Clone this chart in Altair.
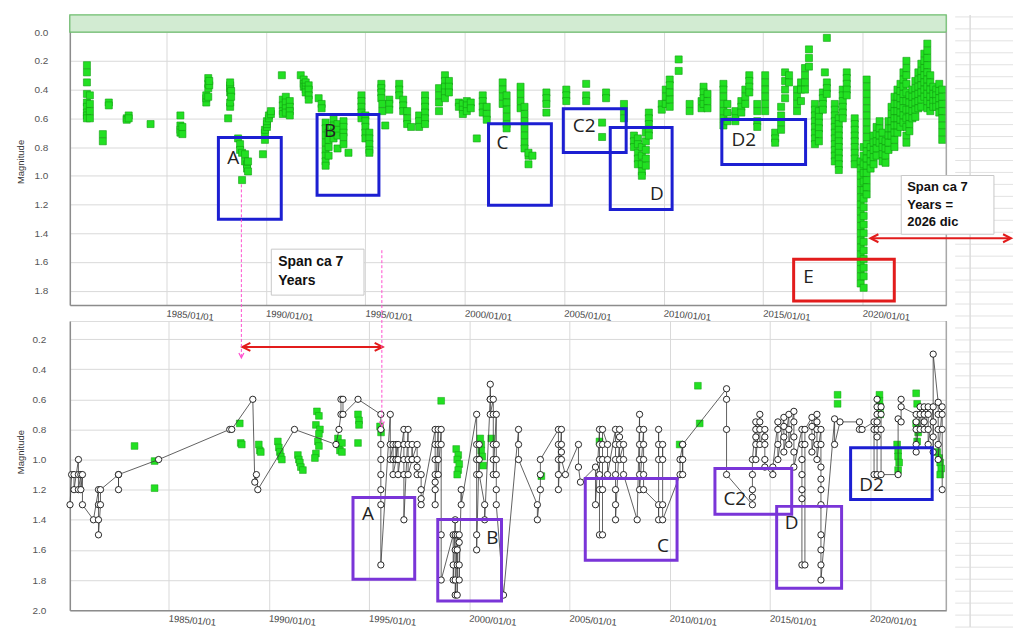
import altair as alt
import pandas as pd

# ---------------- top panel: visual estimates (green squares) ----------------
top_1980s = [
    (1981.0, [0.23, 0.28, 0.35, 0.43, 0.49, 0.52, 0.56, 0.58, 0.60]),
    (1981.15, [0.44, 0.50, 0.55, 0.60]),
    (1981.8, [0.71, 0.76]),
    (1982.1, [0.49, 0.51]),
    (1983.0, [0.60, 0.61]),
    (1983.1, [0.58, 0.60]),
    (1984.2, [0.64]),
    (1985.7, [0.58, 0.65, 0.68, 0.70]),
    (1985.8, [0.66, 0.71]),
    (1987.0, [0.49, 0.46, 0.44]),
    (1987.1, [0.45, 0.39, 0.36, 0.32]),
    (1987.15, [0.37, 0.34]),
    (1988.1, [0.60]),
    (1988.2, [0.52, 0.49, 0.42, 0.39, 0.37, 0.35]),
    (1988.25, [0.41, 0.45]),
    (1988.6, [0.74]),
    (1988.7, [0.78, 0.82]),
    (1988.8, [0.84, 1.03]),
    (1988.95, [0.85, 0.90]),
    (1989.05, [0.92, 0.95]),
    (1989.1, [0.97, 0.90]),
    (1989.85, [0.85]),
    (1989.95, [0.75, 0.70, 0.68]),
]
top_1990s = [
    (1990.05, [0.66, 0.64, 0.62]),
    (1990.15, [0.60, 0.58]),
    (1990.25, [0.57, 0.55]),
    (1990.8, [0.30]),
    (1990.85, [0.47, 0.51, 0.55, 0.57]),
    (1991.0, [0.45, 0.49, 0.53, 0.56]),
    (1991.2, [0.48, 0.52, 0.55, 0.58]),
    (1991.75, [0.30]),
    (1991.9, [0.33, 0.36, 0.38]),
    (1992.0, [0.35, 0.38, 0.40, 0.42]),
    (1992.15, [0.37, 0.40, 0.44, 0.47]),
    (1992.65, [0.46]),
    (1992.8, [0.50, 0.53]),
    (1993.0, [0.63, 0.67, 0.72, 0.77, 0.82, 0.86, 0.90, 0.93]),
    (1993.15, [0.70, 0.75, 0.80, 0.86]),
    (1993.4, [0.61, 0.65, 0.70, 0.74]),
    (1993.6, [0.64, 0.68, 0.72, 0.81]),
    (1993.9, [0.62, 0.66, 0.70, 0.73, 0.78]),
    (1994.15, [0.84]),
    (1994.8, [0.44, 0.48, 0.52, 0.56, 0.60]),
    (1995.0, [0.58, 0.62, 0.66, 0.70, 0.74]),
    (1995.2, [0.70, 0.74, 0.78, 0.82, 0.84]),
    (1995.8, [0.36, 0.39, 0.42, 0.46]),
    (1995.85, [0.50, 0.55]),
    (1996.0, [0.65]),
    (1996.2, [0.47, 0.50, 0.54]),
    (1996.7, [0.36, 0.40, 0.44]),
    (1996.9, [0.47, 0.51, 0.55]),
    (1997.1, [0.55, 0.60, 0.64]),
    (1997.3, [0.66]),
    (1997.7, [0.58, 0.62, 0.66]),
    (1998.0, [0.44, 0.48, 0.52, 0.56, 0.60, 0.64]),
    (1998.7, [0.39, 0.44, 0.49, 0.55]),
    (1999.0, [0.30, 0.34, 0.38, 0.42, 0.46]),
    (1999.2, [0.34, 0.38, 0.42]),
    (1999.7, [0.49, 0.52]),
    (1999.9, [0.50, 0.54, 0.57]),
]
top_2000s = [
    (2000.1, [0.48, 0.51, 0.55]),
    (2000.3, [0.49, 0.53]),
    (2000.6, [0.74]),
    (2000.9, [0.44, 0.48, 0.52, 0.56]),
    (2001.1, [0.52, 0.57, 0.61]),
    (2001.9, [0.35, 0.40, 0.45, 0.50]),
    (2002.1, [0.44, 0.49, 0.54, 0.59, 0.64, 0.67]),
    (2002.8, [0.38, 0.43, 0.48, 0.53]),
    (2003.0, [0.52, 0.57, 0.62, 0.67, 0.72, 0.77, 0.81]),
    (2003.2, [0.86, 0.92, 0.84]),
    (2003.4, [0.86]),
    (2004.1, [0.42, 0.46, 0.50, 0.56]),
    (2005.1, [0.40, 0.44, 0.48]),
    (2006.1, [0.36, 0.44, 0.48]),
    (2006.9, [0.63, 0.73]),
    (2007.1, [0.42, 0.46]),
    (2008.0, [0.50, 0.55, 0.60]),
    (2008.5, [0.72, 0.76, 0.80]),
    (2008.7, [0.74, 0.78, 0.84, 0.88, 0.92]),
    (2008.9, [0.80, 0.86, 0.92, 0.97, 1.00]),
    (2009.1, [0.70, 0.76, 0.82, 0.88, 0.93]),
    (2009.25, [0.56, 0.60, 0.64, 0.68, 0.72]),
    (2009.9, [0.50, 0.54]),
]
top_2010s = [
    (2010.1, [0.40, 0.45, 0.50]),
    (2010.3, [0.33, 0.37, 0.42, 0.47, 0.52]),
    (2010.75, [0.19, 0.27]),
    (2011.3, [0.50, 0.55]),
    (2011.9, [0.48, 0.53]),
    (2012.0, [0.38, 0.42, 0.46, 0.50]),
    (2012.2, [0.43, 0.48, 0.53]),
    (2013.0, [0.36, 0.40, 0.45, 0.50, 0.55, 0.60, 0.65]),
    (2013.2, [0.50, 0.56, 0.62]),
    (2013.6, [0.62, 0.58, 0.55]),
    (2013.9, [0.48, 0.52, 0.56]),
    (2014.1, [0.40, 0.45, 0.50]),
    (2014.3, [0.30, 0.34, 0.38, 0.42]),
    (2014.7, [0.50, 0.55, 0.62, 0.66]),
    (2015.1, [0.30, 0.35, 0.40, 0.45, 0.50, 0.55]),
    (2015.6, [0.70, 0.74, 0.77]),
    (2015.9, [0.52, 0.58, 0.63, 0.68]),
    (2016.1, [0.28, 0.34, 0.40, 0.46]),
    (2016.3, [0.30, 0.35]),
    (2016.7, [0.40, 0.45, 0.50, 0.55]),
    (2016.9, [0.35, 0.40, 0.48]),
    (2017.1, [0.25, 0.30, 0.35, 0.40]),
    (2017.3, [0.12, 0.18, 0.24]),
    (2017.6, [0.50, 0.54, 0.58, 0.62, 0.66, 0.70, 0.74, 0.78]),
    (2017.8, [0.55, 0.59, 0.63, 0.67, 0.71, 0.76]),
    (2018.0, [0.42, 0.46, 0.50, 0.54]),
    (2018.1, [0.28]),
    (2018.2, [0.04, 0.35, 0.39, 0.43]),
    (2018.6, [0.50, 0.54, 0.58, 0.62, 0.66, 0.70, 0.74, 0.78, 0.82, 0.86, 0.90]),
    (2018.8, [0.60, 0.64, 0.68, 0.72, 0.76, 0.80, 0.84, 0.88, 0.92, 0.96]),
    (2019.0, [0.40, 0.44, 0.48, 0.52, 0.56, 0.60]),
    (2019.2, [0.28, 0.32, 0.36, 0.40, 0.44]),
    (2019.6, [0.60, 0.64, 0.68, 0.72, 0.76, 0.80, 0.84, 0.88, 0.92]),
    (2019.9, [0.90, 0.95, 1.00, 1.05, 1.10, 1.15, 1.20, 1.25, 1.30, 1.35, 1.40, 1.45,
              1.50, 1.55, 1.60, 1.65, 1.70, 1.75]),
]
top_2020s = [
    (2020.05, [0.80, 0.86, 0.92, 0.98, 1.04, 1.10, 1.16, 1.22, 1.28, 1.34, 1.40, 1.46,
               1.52, 1.58, 1.64, 1.70, 1.78]),
    (2020.2, [0.33, 0.38, 0.43, 0.48, 0.53, 0.58, 0.63, 0.68, 0.73, 0.78, 0.83, 0.88,
              0.93, 0.98, 1.03, 1.08, 1.13]),
    (2020.4, [0.80, 0.85, 0.90, 0.95]),
    (2020.55, [0.72, 0.77, 0.82, 0.87, 0.92]),
    (2020.7, [0.66, 0.71, 0.76, 0.81, 0.86]),
    (2020.85, [0.62, 0.67, 0.72, 0.77]),
    (2021.0, [0.70, 0.75, 0.80, 0.85, 0.90]),
    (2021.15, [0.76, 0.81, 0.86, 0.91]),
    (2021.3, [0.62, 0.67, 0.72, 0.77, 0.82]),
    (2021.45, [0.52, 0.57, 0.62, 0.67, 0.72]),
    (2021.6, [0.45, 0.50, 0.55, 0.60, 0.65, 0.70, 0.75, 0.80]),
    (2021.75, [0.40, 0.45, 0.50, 0.55, 0.60, 0.65, 0.70]),
    (2021.9, [0.36, 0.41, 0.46, 0.51, 0.56, 0.61, 0.66]),
    (2022.05, [0.28, 0.33, 0.38, 0.43, 0.48, 0.53, 0.58, 0.63]),
    (2022.2, [0.20, 0.25, 0.30, 0.36, 0.42, 0.48, 0.54, 0.60, 0.66, 0.72, 0.77]),
    (2022.35, [0.44, 0.49, 0.54, 0.59, 0.64, 0.69]),
    (2022.5, [0.40, 0.45, 0.50, 0.55, 0.60]),
    (2022.65, [0.34, 0.39, 0.44, 0.49, 0.54, 0.59]),
    (2022.8, [0.28, 0.33, 0.38, 0.43, 0.48, 0.53]),
    (2022.95, [0.22, 0.27, 0.32, 0.37, 0.42, 0.47, 0.52]),
    (2023.1, [0.15, 0.20, 0.25, 0.30, 0.35, 0.40, 0.45]),
    (2023.25, [0.08, 0.13, 0.18, 0.23, 0.28, 0.33, 0.38, 0.43, 0.48, 0.53]),
    (2023.4, [0.30, 0.35, 0.40, 0.45, 0.50, 0.55]),
    (2023.55, [0.38, 0.43, 0.48, 0.52]),
    (2023.7, [0.40, 0.44, 0.48, 0.52]),
    (2023.85, [0.36, 0.41, 0.46, 0.51, 0.56]),
    (2024.0, [0.40, 0.45, 0.50, 0.55, 0.60, 0.65, 0.70, 0.75]),
]

# ---------------- bottom panel: observations joined by a line (circles) ----------------
bot_1980s = [
    (1980.08, [1.30]), (1980.16, [1.10]), (1980.28, [1.10, 1.20]),
    (1980.5, [1.00, 1.10, 1.20]), (1980.62, [1.10, 1.20]), (1980.7, [1.10, 1.30]),
    (1981.25, [1.40]), (1981.5, [1.20, 1.30, 1.40, 1.50]), (1981.6, [1.30, 1.20]),
    (1982.5, [1.10, 1.20, 1.10]), (1984.5, [1.00]), (1988.05, [0.80]),
    (1988.15, [0.80]), (1989.2, [0.60]), (1989.3, [1.15]), (1989.38, [1.10]),
    (1989.45, [1.20]),
]
bot_1990s = [
    (1991.28, [0.80]), (1993.35, [0.90]), (1993.5, [0.80]), (1993.6, [0.70, 0.60]),
    (1993.7, [0.60, 0.70]), (1994.45, [0.60]),
    (1995.59, [0.70, 0.80, 0.90, 1.00, 1.10, 1.20, 1.30, 1.70]),
    (1996.06, [0.70, 0.90, 1.00]), (1996.2, [0.90, 1.00, 1.10]),
    (1996.35, [1.00, 0.90, 1.00]), (1996.45, [0.90, 1.00, 1.10]),
    (1996.74, [0.80, 0.90, 1.00, 1.10, 1.40]), (1996.95, [0.80, 0.90, 1.00, 1.10]),
    (1997.15, [1.00, 0.90, 1.00]), (1997.4, [0.90, 1.00, 1.05, 1.10]),
    (1997.6, [1.10, 1.20, 1.26, 1.30]),
    (1998.3, [0.80, 0.90, 1.00, 1.10, 1.15, 1.20, 1.30]),
    (1998.45, [0.80, 0.90, 1.00, 1.10]), (1998.6, [0.80, 0.90, 1.50, 1.80]),
    (1999.2, [1.50, 1.70, 1.80]), (1999.3, [1.40, 1.50, 1.60, 1.80, 1.90]),
    (1999.4, [1.50, 1.70, 1.90, 1.60]), (1999.5, [1.50, 1.55, 1.70, 1.80]),
    (1999.6, [1.20, 1.30]),
]
bot_2000s = [
    (2000.37, [0.70, 0.90, 1.00, 1.10, 1.50, 1.60]), (2000.5, [0.90, 1.00, 1.10]),
    (2000.77, [1.30, 1.40]), (2001.05, [0.60, 0.50, 0.60, 0.70]),
    (2001.2, [0.60, 0.70, 0.90, 1.00, 1.10]), (2001.35, [0.70, 0.90, 1.00, 1.10, 1.20, 1.30]),
    (2001.71, [1.90]), (2002.46, [0.80, 0.90, 1.00]), (2003.4, [1.30, 1.40]),
    (2003.55, [1.20, 1.10, 1.00]), (2004.45, [0.80, 0.90, 1.00, 1.10, 1.20]),
    (2004.6, [0.80, 0.90, 0.95, 1.00]), (2004.8, [1.10]), (2005.45, [0.90, 1.05]),
    (2005.55, [1.15]), (2006.3, [1.05, 1.30]),
    (2006.5, [0.80, 0.90, 1.00, 1.10, 1.20, 1.50]), (2006.65, [1.50, 1.20, 1.00, 0.90, 0.80]),
    (2006.9, [0.90, 1.00, 1.10]), (2007.3, [0.80, 0.90, 1.00, 1.10, 1.20, 1.30, 1.40]),
    (2007.5, [0.85, 0.80, 0.90, 1.00]), (2007.7, [0.90, 1.00, 1.10]), (2008.38, [1.40]),
    (2008.5, [0.70, 0.80, 0.90, 1.00, 1.10, 1.20]), (2008.7, [0.80, 0.90, 1.00, 1.10, 1.20]),
    (2009.45, [1.30, 1.40, 0.80, 0.90, 1.00]), (2009.65, [1.00, 0.90, 1.30, 1.40]),
]
bot_2010s = [
    (2010.52, [1.10, 1.00]), (2010.65, [0.90, 1.00, 1.10, 0.90]),
    (2012.84, [0.53, 0.60, 0.80, 1.10]), (2014.13, [1.30, 1.25, 1.20, 1.10, 1.00]),
    (2014.3, [0.75, 0.80, 0.85, 0.90, 1.00]), (2014.5, [0.70, 0.75, 0.80, 0.90]),
    (2014.75, [0.80, 0.85, 0.90, 1.00, 1.05]), (2015.15, [1.10, 1.05]),
    (2015.4, [0.75, 0.80, 0.90, 1.00]), (2015.7, [0.72, 0.78, 0.85, 0.95]),
    (2015.95, [0.70, 0.80, 0.90]), (2016.2, [0.68, 0.75, 0.85, 0.95, 1.05]),
    (2016.6, [0.80, 0.90, 1.00, 1.10, 1.20, 1.26, 1.70]), (2016.75, [1.70, 0.90, 0.80]),
    (2017.1, [0.72, 0.78, 0.85, 0.95]), (2017.35, [0.70, 0.75, 0.80, 0.90, 1.00]),
    (2017.55, [0.80, 0.90, 1.05, 1.13, 1.20, 1.30, 1.50, 1.60, 1.70, 1.80]),
    (2018.23, [0.73, 0.90]), (2018.5, [0.75]), (2019.47, [0.75, 0.80]), (2019.6, [0.80]),
]
bot_2020s = [
    (2020.2, [0.75, 0.80, 1.10]), (2020.35, [1.10, 0.85, 0.80, 0.75, 0.70, 0.65, 0.60]),
    (2020.55, [0.65, 0.70, 0.80, 1.10]), (2021.4, [1.10, 0.73]),
    (2021.55, [0.75, 0.60, 0.65]), (2022.3, [0.70, 0.75, 0.80, 0.90, 0.95]),
    (2022.5, [0.65, 0.70, 0.80]), (2022.7, [0.65, 0.70, 0.75, 0.80]),
    (2022.9, [0.65, 0.70, 0.80, 0.90]), (2023.15, [0.65, 0.75, 0.85, 0.95, 0.30]),
    (2023.4, [0.62, 0.70, 0.80, 0.90, 1.00]), (2023.6, [0.65, 0.70, 0.80, 1.20]),
]

# bottom panel green squares
bot_green_years = [
    1983.3, 1984.3, 1984.3, 1988.55, 1988.6, 1988.65, 1989.5, 1989.55, 1989.6,
    1990.45, 1990.5, 1990.55, 1990.6, 1990.65, 1991.45, 1991.5, 1991.55, 1991.6, 1991.7,
    1992.4, 1992.5, 1992.35, 1992.55, 1992.5, 1992.45, 1992.5, 1992.35, 1992.3,
    1993.45, 1993.5, 1993.55, 1993.65, 1993.65, 1994.45, 1994.5, 1994.5, 1994.45,
    1995.55, 1995.6, 1998.6, 1999.35, 1999.45, 1999.4, 1999.5, 1999.45, 1999.4,
    2000.55, 2000.6, 2000.6, 2000.65, 2000.7, 2001.1, 2003.6, 2006.5, 2010.5,
    2011.41, 2011.5, 2018.38, 2018.38, 2020.47, 2020.47, 2020.5, 2020.5,
    2021.35, 2021.4, 2021.4, 2021.45, 2021.4, 2022.3, 2022.35, 2022.3, 2022.4, 2022.35,
    2023.35, 2023.45, 2023.5, 2023.55, 2023.5,
]
bot_green_mags = [
    0.91, 1.01, 1.19, 0.76, 0.89, 0.90, 0.90, 0.94, 0.95,
    0.88, 0.92, 0.95, 0.98, 1.00, 0.97, 1.00, 1.02, 1.05, 1.07,
    0.68, 0.71, 0.77, 0.80, 0.83, 0.88, 0.91, 0.96, 0.99,
    0.86, 0.90, 0.94, 0.89, 0.95, 0.70, 0.74, 0.77, 0.89,
    0.78, 0.82, 0.61, 0.93, 0.97, 1.00, 1.03, 1.07, 1.10,
    0.86, 0.90, 0.94, 0.98, 1.04, 0.86, 1.11, 0.88, 0.90,
    0.51, 0.76, 0.57, 0.63, 0.57, 0.61, 0.65, 0.70,
    0.90, 0.94, 0.98, 1.02, 1.07, 0.56, 0.63, 0.76, 0.82, 0.88,
    0.95, 0.99, 1.02, 1.06, 1.10,
]

tick_years = [1985, 1990, 1995, 2000, 2005, 2010, 2015, 2020]
top_mag_ticks = [0.0, 0.2, 0.4, 0.6, 0.8, 1.0, 1.2, 1.4, 1.6, 1.8]
bot_mag_ticks = [0.2, 0.4, 0.6, 0.8, 1.0, 1.2, 1.4, 1.6, 1.8, 2.0]

# annotation boxes
top_box_labels = ["A", "B", "C", "C2", "D", "D2", "E"]
top_box_x0 = [1987.61, 1992.57, 2001.19, 2004.95, 2007.31, 2012.92, 2016.53]
top_box_x1 = [1990.77, 1995.68, 2004.35, 2008.11, 2010.42, 2017.13, 2021.59]
top_box_m0 = [0.734, 0.574, 0.637, 0.533, 0.664, 0.609, 1.581]
top_box_m1 = [1.303, 1.136, 1.206, 0.838, 1.234, 0.921, 1.872]
top_box_kind = ["blue", "blue", "blue", "blue", "blue", "blue", "red"]
top_lab_x = [1988.36, 1993.22, 2001.89, 2006.0, 2009.66, 2014.02, 2017.28]
top_lab_m = [0.873, 0.685, 0.769, 0.657, 1.129, 0.748, 1.706]

bot_box_labels = ["A", "B", "C", "C2", "D", "D2"]
bot_box_x0 = [1994.20, 1998.43, 2005.79, 2012.26, 2015.34, 2019.03]
bot_box_x1 = [1997.28, 2001.61, 2010.37, 2016.09, 2018.58, 2023.10]
bot_box_m0 = [1.252, 1.398, 1.126, 1.060, 1.311, 0.921]
bot_box_m1 = [1.795, 1.940, 1.669, 1.364, 1.854, 1.265]
bot_box_kind = ["purple", "purple", "purple", "purple", "purple", "blue"]
bot_lab_x = [1994.95, 2001.16, 2009.67, 2013.25, 2016.09, 2020.07]
bot_lab_m = [1.364, 1.523, 1.576, 1.265, 1.424, 1.166]

span_right_lines = ["Span ca 7", "Years =", "2026 dic"]
span_right_m = [1.081, 1.206, 1.324]
span_left_lines = ["Span ca 7", "Years"]
span_left_m = [1.602, 1.733]

BLUE = "#1c1fd2"
PURPLE = "#7a35d8"
RED = "#e21c1c"
PINK = "#ff4fd0"
GREEN = "#22e022"
GREEN_EDGE = "#12a012"

FONT = "Liberation Sans"
LAB_FONT = "Open Sans"

# ---------------- helpers ----------------
def flatten(*groups):
    rows = []
    for g in groups:
        for yr, mags in g:
            for m in mags:
                rows.append({"year": yr, "mag": m})
    df = pd.DataFrame(rows)
    df["seq"] = range(len(df))
    return df


top_df = flatten(top_1980s, top_1990s, top_2000s, top_2010s, top_2020s)
bot_df = flatten(bot_1980s, bot_1990s, bot_2000s, bot_2010s, bot_2020s)
bg_df = pd.DataFrame({"year": bot_green_years, "mag": bot_green_mags})

W = 879
TOP_H = 291
BOT_H = 290
TOP_X = [1980.14, 2024.2]
TOP_Y = [-0.12, 1.9]
BOT_X = [1980.07, 2023.8]
BOT_Y = [0.08, 2.0]
PX_PER_YEAR = W / (TOP_X[1] - TOP_X[0])
PX_PER_MAG = TOP_H / (TOP_Y[1] - TOP_Y[0])


def x_axis():
    return alt.Axis(values=tick_years, labelExpr="datum.value + '/01/01'", labelAngle=5,
                    labelAlign="left", labelBaseline="top", labelPadding=3,
                    labelFontSize=9.5, labelColor="#444", labelFont=FONT,
                    grid=True, gridColor="#d9d9d9", ticks=False,
                    domainColor="#8c8c8c", domainWidth=1.5, title=None,
                    labelOverlap=False)


def y_axis(vals, pad, ty):
    return alt.Axis(values=vals, format=".1f", grid=True, gridColor="#d9d9d9", ticks=False,
                    labelPadding=pad, labelFontSize=10, labelColor="#555", labelFont=FONT,
                    domainColor="#8c8c8c", domainWidth=1.5,
                    title="Magnitude", titleFontSize=9.5, titleFontWeight="normal",
                    titleColor="#333", titleFont=FONT, titleX=-49, titleY=ty,
                    titleBaseline="middle")


def enc_top(xf="year", yf="mag"):
    return dict(
        x=alt.X(f"{xf}:Q", scale=alt.Scale(domain=TOP_X, nice=False, zero=False), axis=x_axis()),
        y=alt.Y(f"{yf}:Q", scale=alt.Scale(domain=TOP_Y, reverse=True, nice=False, zero=False),
                axis=y_axis(top_mag_ticks, 22, 147)),
    )


def enc_bot(xf="year", yf="mag"):
    return dict(
        x=alt.X(f"{xf}:Q", scale=alt.Scale(domain=BOT_X, nice=False, zero=False), axis=x_axis()),
        y=alt.Y(f"{yf}:Q", scale=alt.Scale(domain=BOT_Y, reverse=True, nice=False, zero=False),
                axis=y_axis(bot_mag_ticks, 24, 131)),
    )


LEFT_CHEV = "M2,-1L0,0L2,1"
RIGHT_CHEV = "M-2,-1L0,0L-2,1"
DOWN_CHEV = "M-1,-2L0,0L1,-2"

# ---------------- spreadsheet backdrop on the right (decoration) ----------------
# page-pixel rows of the worksheet grid, converted into the top panel's coordinates
sheet_rows_px = [14 + 12 * k for k in range(52)]
sheet_df = pd.DataFrame({
    "x0": [TOP_X[1] + (957 - 948) / PX_PER_YEAR] * len(sheet_rows_px),
    "x1": [TOP_X[1] + (1015 - 948) / PX_PER_YEAR] * len(sheet_rows_px),
    "m": [TOP_Y[0] + (p - 12) / PX_PER_MAG for p in sheet_rows_px],
})
sheet_cols_df = pd.DataFrame({
    "x": [TOP_X[1] + (972 - 948) / PX_PER_YEAR],
    "m0": [TOP_Y[0]],
    "m1": [TOP_Y[0] + (626 - 12) / PX_PER_MAG],
})

# ---------------- top panel ----------------
sheet_h = alt.Chart(sheet_df).mark_rule(color="#e2e2e2", strokeWidth=1).encode(
    **enc_top("x0", "m"), x2="x1:Q")
sheet_v = alt.Chart(sheet_cols_df).mark_rule(color="#dcdcdc", strokeWidth=1.5).encode(
    **enc_top("x", "m0"), y2="m1:Q")

band_df = pd.DataFrame({"x0": [TOP_X[0]], "x1": [TOP_X[1]], "m0": [TOP_Y[0]], "m1": [0.0]})
band = alt.Chart(band_df).mark_rect(fill="#d2ebd2", stroke="#6cbd6c", strokeWidth=1.2).encode(
    **enc_top("x0", "m0"), x2="x1:Q", y2="m1:Q")

right_edge_top = alt.Chart(pd.DataFrame({"x": [TOP_X[1]], "m0": [0.0], "m1": [TOP_Y[1]]})).mark_rule(
    color="#9a9a9a", strokeWidth=1.2).encode(**enc_top("x", "m0"), y2="m1:Q")

top_pts = alt.Chart(top_df).mark_square(size=50, color=GREEN, opacity=1,
                                        stroke=GREEN_EDGE, strokeWidth=0.6).encode(**enc_top())

tb_df = pd.DataFrame({"lab": top_box_labels, "x0": top_box_x0, "x1": top_box_x1,
                      "m0": top_box_m0, "m1": top_box_m1, "kind": top_box_kind,
                      "lx": top_lab_x, "lm": top_lab_m})
top_boxes = alt.Chart(tb_df).mark_rect(fillOpacity=0, strokeWidth=3).encode(
    **enc_top("x0", "m0"), x2="x1:Q", y2="m1:Q",
    stroke=alt.Stroke("kind:N", scale=alt.Scale(domain=["blue", "red", "purple"],
                                                range=[BLUE, RED, PURPLE]), legend=None))
top_labels = alt.Chart(tb_df).mark_text(font=LAB_FONT, fontSize=19, color="#222",
                                        align="center", baseline="middle").encode(
    **enc_top("lx", "lm"), text="lab:N")

# span box (right)
srb = alt.Chart(pd.DataFrame({"x0": [2021.94], "x1": [2026.6], "m0": [0.998], "m1": [1.407]})).mark_rect(
    fill="white", stroke="#c8c8c8", strokeWidth=1).encode(**enc_top("x0", "m0"), x2="x1:Q", y2="m1:Q")
srt = alt.Chart(pd.DataFrame({"t": span_right_lines, "x": [2022.24] * 3, "m": span_right_m})).mark_text(
    font=FONT, fontSize=13, fontWeight="bold", color="#111", align="left", baseline="middle").encode(
    **enc_top("x", "m"), text="t:N")
# span box (left)
slb = alt.Chart(pd.DataFrame({"x0": [1990.27], "x1": [1994.93], "m0": [1.511], "m1": [1.831]})).mark_rect(
    fill="white", stroke="#c8c8c8", strokeWidth=1).encode(**enc_top("x0", "m0"), x2="x1:Q", y2="m1:Q")
slt = alt.Chart(pd.DataFrame({"t": span_left_lines, "x": [1990.62] * 2, "m": span_left_m})).mark_text(
    font=FONT, fontSize=14, fontWeight="bold", color="#111", align="left", baseline="middle").encode(
    **enc_top("x", "m"), text="t:N")

# red arrow (top)
ra_top = alt.Chart(pd.DataFrame({"x0": [2020.5], "x1": [2027.35], "m": [1.435]})).mark_rule(
    color=RED, strokeWidth=2).encode(**enc_top("x0", "m"), x2="x1:Q")
ra_top_l = alt.Chart(pd.DataFrame({"x": [2020.39], "m": [1.435]})).mark_point(
    shape=LEFT_CHEV, filled=False, stroke=RED, strokeWidth=2, size=64, opacity=1).encode(**enc_top("x", "m"))
ra_top_r = alt.Chart(pd.DataFrame({"x": [2027.46], "m": [1.435]})).mark_point(
    shape=RIGHT_CHEV, filled=False, stroke=RED, strokeWidth=2, size=64, opacity=1).encode(**enc_top("x", "m"))

top = alt.layer(sheet_h, sheet_v, band, top_pts, right_edge_top, top_boxes, top_labels,
                srb, srt, slb, slt, ra_top, ra_top_l, ra_top_r).properties(width=W, height=TOP_H)

# ---------------- bottom panel ----------------
right_edge_bot = alt.Chart(pd.DataFrame({"x": [BOT_X[1]], "m0": [BOT_Y[0]], "m1": [BOT_Y[1]]})).mark_rule(
    color="#9a9a9a", strokeWidth=1.2).encode(**enc_bot("x", "m0"), y2="m1:Q")

bot_green = alt.Chart(bg_df).mark_square(size=46, color=GREEN, opacity=1,
                                         stroke=GREEN_EDGE, strokeWidth=0.5).encode(**enc_bot())
bot_line = alt.Chart(bot_df).mark_line(color="#3a3a3a", strokeWidth=0.8).encode(
    **enc_bot(), order="seq:Q")
bot_circ = alt.Chart(bot_df).mark_point(shape="circle", size=40, filled=True, fill="white",
                                        stroke="#111", strokeWidth=0.9, opacity=1).encode(**enc_bot())

bb_df = pd.DataFrame({"lab": bot_box_labels, "x0": bot_box_x0, "x1": bot_box_x1,
                      "m0": bot_box_m0, "m1": bot_box_m1, "kind": bot_box_kind,
                      "lx": bot_lab_x, "lm": bot_lab_m})
bot_boxes = alt.Chart(bb_df).mark_rect(fillOpacity=0, strokeWidth=3).encode(
    **enc_bot("x0", "m0"), x2="x1:Q", y2="m1:Q",
    stroke=alt.Stroke("kind:N", scale=alt.Scale(domain=["blue", "red", "purple"],
                                                range=[BLUE, RED, PURPLE]), legend=None))
bot_labels = alt.Chart(bb_df).mark_text(font=LAB_FONT, fontSize=19, color="#222",
                                        align="center", baseline="middle").encode(
    **enc_bot("lx", "lm"), text="lab:N")

# red double arrow (bottom)
ra_bot = alt.Chart(pd.DataFrame({"x0": [1988.75], "x1": [1995.55], "m": [0.252]})).mark_rule(
    color=RED, strokeWidth=2).encode(**enc_bot("x0", "m"), x2="x1:Q")
ra_bot_l = alt.Chart(pd.DataFrame({"x": [1988.68], "m": [0.252]})).mark_point(
    shape=LEFT_CHEV, filled=False, stroke=RED, strokeWidth=2, size=64, opacity=1).encode(**enc_bot("x", "m"))
ra_bot_r = alt.Chart(pd.DataFrame({"x": [1995.68], "m": [0.252]})).mark_point(
    shape=RIGHT_CHEV, filled=False, stroke=RED, strokeWidth=2, size=64, opacity=1).encode(**enc_bot("x", "m"))

# pink dashed guides (span from top panel into bottom panel)
pink_df = pd.DataFrame({"x": [1988.63, 1995.64], "m0": [-0.827, -0.390], "m1": [0.325, 0.780]})
pink = alt.Chart(pink_df).mark_rule(color=PINK, strokeWidth=1, strokeDash=[3, 2]).encode(
    **enc_bot("x", "m0"), y2="m1:Q")
pink_tip = alt.Chart(pink_df).mark_point(shape=DOWN_CHEV, filled=False, stroke=PINK, strokeWidth=1.2,
                                         size=25, opacity=1).encode(**enc_bot("x", "m1"))

bottom = alt.layer(bot_green, bot_line, bot_circ, right_edge_bot, bot_boxes, bot_labels,
                   ra_bot, ra_bot_l, ra_bot_r, pink, pink_tip).properties(width=W, height=BOT_H)

chart = alt.vconcat(top, bottom, spacing=16, bounds="flush").properties(
    padding={"left": 7, "top": 4, "right": 0, "bottom": 0}
).configure_view(stroke=None).configure(font=FONT, background="white")

chart.save("out.html", embed_options={"renderer": "svg", "actions": False})
